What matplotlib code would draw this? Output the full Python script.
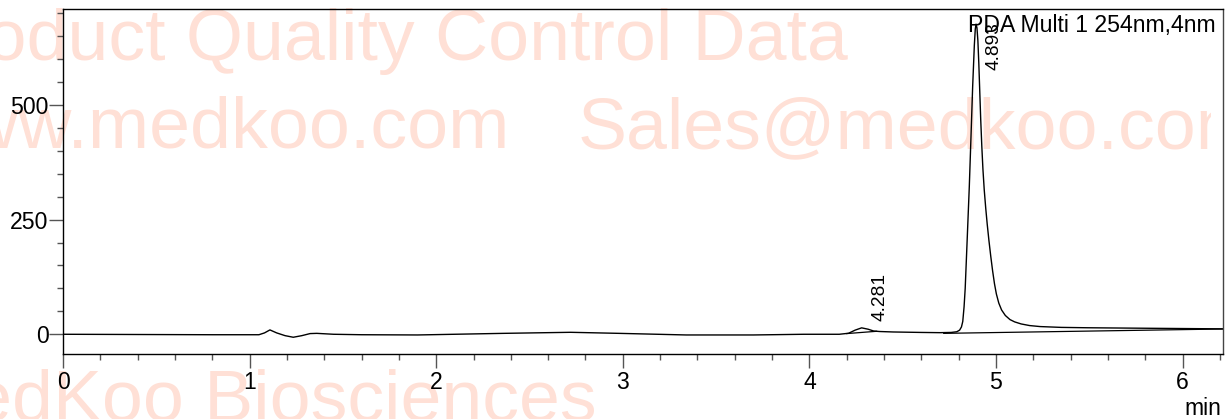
import matplotlib
matplotlib.use("Agg")
import matplotlib.pyplot as plt
from matplotlib.ticker import MultipleLocator
from matplotlib.transforms import Bbox

# chromatogram trace (time in min, signal in mAU)
time = [0.0, 0.4, 0.8, 1.05, 1.08, 1.109, 1.145, 1.19, 1.234, 1.28, 1.324, 1.36,
        1.45, 1.6, 1.9, 2.36, 2.72, 2.98, 3.34, 3.7, 3.97, 4.16, 4.21, 4.245,
        4.28, 4.315, 4.345, 4.378, 4.45, 4.6, 4.7, 4.76, 4.79, 4.805, 4.815,
        4.822, 4.829, 4.835, 4.846, 4.857, 4.866, 4.875, 4.884, 4.889, 4.893,
        4.898, 4.903, 4.908, 4.913, 4.918, 4.924, 4.930, 4.937, 4.945, 4.953,
        4.962, 4.972, 4.982, 4.992, 5.002, 5.015, 5.03, 5.05, 5.075, 5.10,
        5.135, 5.18, 5.236, 5.35, 5.49, 5.84, 6.215]
signal = [0, -0.5, -1, -1, 3, 9.5, 3, -3, -6.5, -3, 1.5, 2,
          0, -1, -1.5, 2, 4.3, 2, -1.5, -1.5, 0, 0, 2.2, 9,
          14, 11, 7, 6, 5, 4, 3.5, 4, 5.5, 9, 16,
          28, 60, 100, 210, 322, 430, 540, 630, 665, 676,
          668, 640, 590, 530, 470, 410, 360, 315, 275, 240,
          205, 170, 138, 110, 88, 68, 53, 41, 32, 27,
          22.5, 19, 16.8, 15, 14.2, 13, 11.8]

# integration baselines (start/end time, start/end signal)
base_t = [(4.2, 4.36), (4.72, 6.215)]
base_v = [(1.5, 6.5), (2.0, 11.5)]

peak_times = [4.281, 4.893]
peak_labels = ["4.281", "4.893"]
label_heights = [30, 576]

xticks = [0, 1, 2, 3, 4, 5, 6]
yticks = [0, 250, 500]

font = "Liberation Sans"
wm_color = "#ffe0d6"

fig = plt.figure(figsize=(12.32, 4.19), dpi=100)
ax = fig.add_axes([63 / 1232, 1 - 354 / 419, (1222.7 - 63) / 1232, (354 - 9) / 419])
ax.set_zorder(1)
ax.set_facecolor("none")

# watermark, cut off just short of the right frame like in the scan
wm_size = 52.9
wm_clip = Bbox.from_extents(0, 0, 1211, 419)
wm = [
    (-88, 60, "Product Quality Control Data"),
    (-88, 148, "www.medkoo.com"),
    (578, 148, "Sales@medkoo.com"),
    (-90, 420, "MedKoo Biosciences"),
]
for x, y, s in wm:
    t = fig.text(x / 1232, 1 - y / 419, s, color=wm_color, fontsize=wm_size,
                 family=font, va="baseline", zorder=0.5)
    t.set_clip_box(wm_clip)

ax.plot(time, signal, color="black", lw=1.0)
for bt, bv in zip(base_t, base_v):
    ax.plot(bt, bv, color="black", lw=0.9)

for t, lab, h in zip(peak_times, peak_labels, label_heights):
    ax.annotate(lab, xy=(t, h), xytext=(13, 0), textcoords="offset points",
                rotation=90, ha="center", va="bottom", fontsize=13.8, family=font)

ax.set_xlim(0, 6.215)
ax.set_ylim(-43, 709)
ax.set_xticks(xticks)
ax.set_yticks(yticks)
ax.xaxis.set_minor_locator(MultipleLocator(0.2))
ax.yaxis.set_minor_locator(MultipleLocator(50))
ax.tick_params(which="major", length=10, width=1, color="#555555", labelsize=16.6)
ax.tick_params(which="minor", length=4.3, width=1, color="#555555")
ax.tick_params(axis="y", pad=0.5)
ax.tick_params(axis="x", pad=2)
for lbl in ax.get_xticklabels() + ax.get_yticklabels():
    lbl.set_family(font)
for s in ax.spines.values():
    s.set_linewidth(1.0)
ax.spines["right"].set_color("#444444")

ax.text(0.9935, 1 - (31.7 - 9) / 345, "PDA Multi 1 254nm,4nm",
        transform=ax.transAxes, ha="right", va="baseline", fontsize=16.6, family=font)
fig.text(1221.7 / 1232, 1 - 415 / 419, "min", ha="right", va="baseline",
         fontsize=16.6, family=font)

fig.savefig("out.png", dpi=100)
